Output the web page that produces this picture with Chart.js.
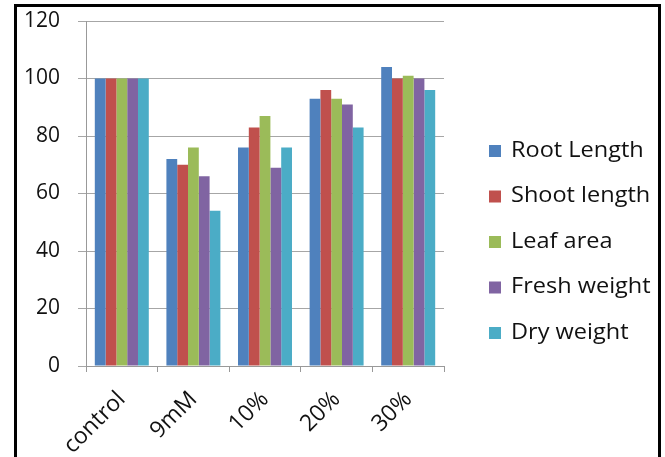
<!DOCTYPE html>
<html>
<head>
<meta charset="utf-8">
<script src="https://cdn.jsdelivr.net/npm/chart.js@4/dist/chart.umd.min.js"></script>
<style>
  html, body { margin: 0; padding: 0; background: #fff; }
  #wrap { position: relative; width: 665px; height: 457px; overflow: hidden; }
  #frame { position: absolute; left: 14px; top: 4px; width: 641px; height: 470px;
           border: 3px solid #000; border-bottom: none; pointer-events: none; }
  canvas { position: absolute; left: 0; top: 0; }
</style>
</head>
<body>
<div id="wrap">
  <canvas id="chart" width="665" height="457"></canvas>
  <div id="frame"></div>
</div>
<script>
var categories = ["control", "9mM", "10%", "20%", "30%"];
var seriesNames = ["Root Length", "Shoot length", "Leaf area", "Fresh weight", "Dry weight"];
var rootLength  = [100, 72, 76, 93, 104];
var shootLength = [100, 70, 83, 96, 100];
var leafArea    = [100, 76, 87, 93, 101];
var freshWeight = [100, 66, 69, 91, 100];
var dryWeight   = [100, 54, 76, 83, 96];
var yTicks = [0, 20, 40, 60, 80, 100, 120];

var colors = ["#4F81BD", "#C0504D", "#9BBB59", "#8064A2", "#4BACC6"];
var values = [rootLength, shootLength, leafArea, freshWeight, dryWeight];
var fontFamily = "'Open Sans', sans-serif";

var datasets = [];
for (var i = 0; i < values.length; i++) {
    datasets.push({
        label: seriesNames[i],
        data: values[i],
        backgroundColor: colors[i],
        borderWidth: 0,
        categoryPercentage: 0.754,
        barPercentage: 1
    });
}

// legend drawn by hand so it sits where the original has it
var sideLegend = {
    id: 'sideLegend',
    afterDraw: function (chart) {
        var ctx = chart.ctx;
        ctx.save();
        ctx.textBaseline = "middle";
        chart.data.datasets.forEach(function (ds, idx) {
            var y = 151 + idx * 45.5;
            ctx.fillStyle = ds.backgroundColor;
            ctx.fillRect(489, y - 6, 12, 12);
            ctx.save();
            ctx.translate(511, y);
            ctx.scale(1.12, 1);   // original text is a bit wider
            ctx.font = "21px " + fontFamily;
            ctx.fillStyle = "#111";
            ctx.fillText(ds.label, 0, 0);
            ctx.restore();
        });
        ctx.restore();
    }
};

new Chart(document.getElementById("chart"), {
    type: 'bar',
    data: { labels: categories, datasets: datasets },
    options: {
        responsive: false,
        animation: false,
        layout: { padding: { top: 21, right: 221, left: 0, bottom: 0 } },
        plugins: {
            legend: { display: false },
            tooltip: { enabled: false }
        },
        scales: {
            x: {
                grid: { drawOnChartArea: false, color: "#999", tickLength: 6, offset: true },
                border: { color: "#999", width: 1 },
                ticks: {
                    color: "#111",
                    font: { family: fontFamily, size: 23 },
                    minRotation: 45,
                    maxRotation: 45,
                    padding: 14
                },
                afterFit: function (scale) {
                    scale.height = 91;
                    scale.paddingLeft = 0;
                    scale.paddingRight = 0;
                }
            },
            y: {
                min: 0,
                max: 120,
                afterBuildTicks: function (scale) {
                    scale.ticks = yTicks.map(function (v) { return { value: v }; });
                },
                grid: { color: "#a6a6a6", tickLength: 8 },
                border: { color: "#999", width: 1 },
                ticks: {
                    color: "#111",
                    font: { family: fontFamily, size: 21 },
                    padding: 18
                },
                afterFit: function (scale) {
                    scale.width = 86;
                    scale.paddingTop = 0;
                    scale.paddingBottom = 0;
                }
            }
        }
    },
    plugins: [sideLegend]
});
</script>
</body>
</html>
